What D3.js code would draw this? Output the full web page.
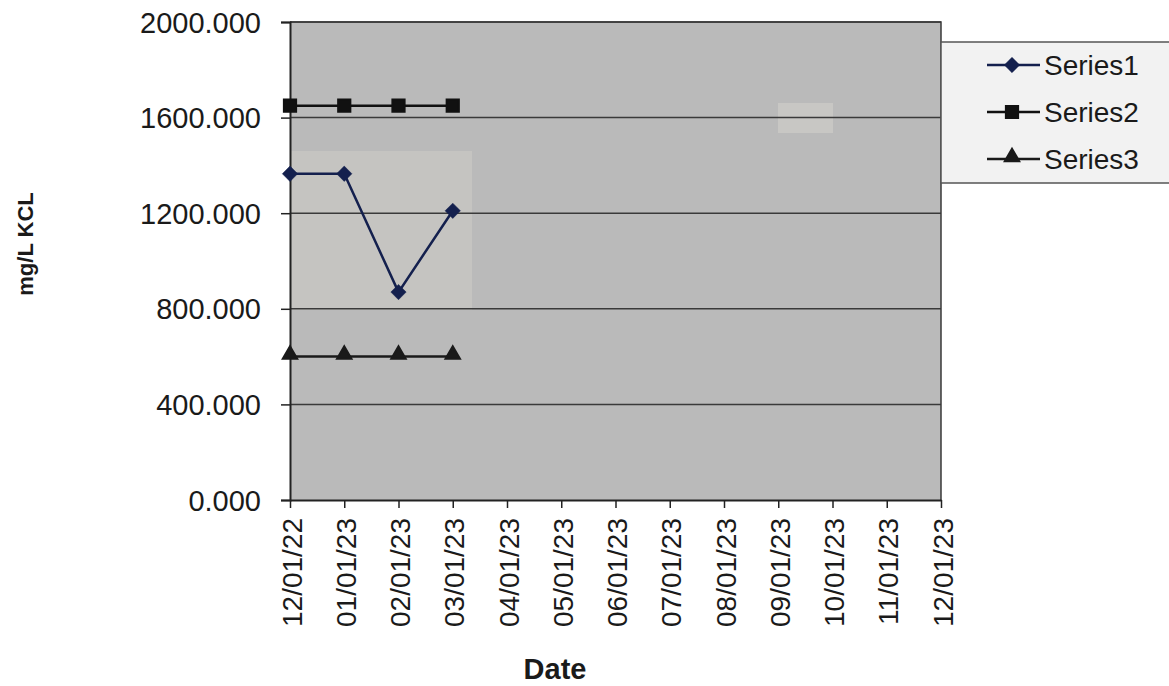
<!DOCTYPE html>
<html>
<head>
<meta charset="utf-8">
<script src="https://cdn.jsdelivr.net/npm/d3@7"></script>
<style>
  html, body { margin: 0; padding: 0; background: #ffffff; }
  svg { display: block; font-family: Arial, "Liberation Sans", sans-serif; }
</style>
</head>
<body>
<svg id="chart" width="1169" height="686"></svg>
<script>
// Monthly sampling dates on the x axis
const dates = ["12/01/22", "01/01/23", "02/01/23", "03/01/23", "04/01/23", "05/01/23",
               "06/01/23", "07/01/23", "08/01/23", "09/01/23", "10/01/23", "11/01/23", "12/01/23"];
// Measured KCL concentrations (mg/L), first four months
const series1 = [1365, 1365, 870, 1210];
const series2 = [1650, 1650, 1650, 1650];
const series3 = [600, 600, 600, 600];
const yTicks = [0, 400, 800, 1200, 1600, 2000];
const seriesNames = ["Series1", "Series2", "Series3"];

const FONT = "Arial, 'Liberation Sans', sans-serif";
const svg = d3.select("#chart");
const plot = { left: 290, right: 941, top: 22, bottom: 500 };

const x = d3.scalePoint().domain(dates).range([plot.left, plot.right]);
const y = d3.scaleLinear().domain([0, 2000]).range([plot.bottom, plot.top]);

// Plot background
svg.append("rect")
  .attr("x", plot.left).attr("y", plot.top)
  .attr("width", plot.right - plot.left).attr("height", plot.bottom - plot.top)
  .attr("fill", "#bababa");

// Lighter patches in the plot area
svg.append("rect").attr("x", plot.left).attr("y", 151).attr("width", 182).attr("height", 159)
  .attr("fill", "#c5c4c1");
svg.append("rect").attr("x", 778).attr("y", 103).attr("width", 55).attr("height", 30)
  .attr("fill", "#c8c7c4");

// Gridlines
svg.append("g").selectAll("line").data(yTicks.filter(d => d > 0)).join("line")
  .attr("x1", plot.left).attr("x2", plot.right)
  .attr("y1", d => y(d)).attr("y2", d => y(d))
  .attr("stroke", "#3a3a3a").attr("stroke-width", 1.5);

// Plot border (top and right)
svg.append("path")
  .attr("d", `M${plot.left},${plot.top}H${plot.right}V${plot.bottom}`)
  .attr("fill", "none").attr("stroke", "#3a3a3a").attr("stroke-width", 1.5);

// Y axis
const yAxis = svg.append("g")
  .attr("transform", `translate(${plot.left},0)`)
  .call(d3.axisLeft(y).tickValues(yTicks).tickFormat(d3.format(".3f")).tickSize(9).tickPadding(20));
yAxis.select(".domain").attr("stroke", "#222").attr("stroke-width", 2);
yAxis.selectAll(".tick line").attr("stroke", "#222").attr("stroke-width", 1.5);
yAxis.selectAll(".tick text").attr("font-size", 29).attr("fill", "#1a1a1a")
  .attr("font-family", FONT).attr("dy", "0.35em");

// X axis
const xAxis = svg.append("g")
  .attr("transform", `translate(0,${plot.bottom})`)
  .call(d3.axisBottom(x).tickSize(8).tickSizeOuter(0));
xAxis.select(".domain").attr("stroke", "#222").attr("stroke-width", 2);
xAxis.selectAll(".tick line").attr("stroke", "#222").attr("stroke-width", 1.5);
xAxis.selectAll(".tick text")
  .attr("font-size", 28).attr("fill", "#1a1a1a")
  .attr("font-family", FONT)
  .attr("transform", "rotate(-90)")
  .attr("text-anchor", "end")
  .attr("x", -18).attr("y", 1).attr("dy", "0.36em");

// Axis titles
svg.append("text").attr("x", 555).attr("y", 679).attr("text-anchor", "middle")
  .attr("font-size", 29).attr("font-weight", "bold").attr("fill", "#1a1a1a").text("Date");
svg.append("text").attr("transform", "translate(33,244) rotate(-90)").attr("text-anchor", "middle")
  .attr("font-size", 22).attr("font-weight", "bold").attr("fill", "#1a1a1a").text("mg/L KCL");

// Series definitions
const seriesData = [series1, series2, series3];
const colors = ["#14204e", "#111111", "#1a1a1a"];
const symbols = [
  d3.symbol().type(d3.symbolDiamond2).size(150),
  d3.symbol().type(d3.symbolSquare2).size(190),
  d3.symbol().type(d3.symbolTriangle2).size(150)
];
const line = d3.line().x((d, i) => x(dates[i])).y(d => y(d));

seriesData.forEach((vals, s) => {
  const g = svg.append("g");
  g.append("path").datum(vals).attr("d", line)
    .attr("fill", "none").attr("stroke", colors[s]).attr("stroke-width", 2.5);
  g.selectAll("path.m").data(vals).join("path").attr("class", "m")
    .attr("d", symbols[s])
    .attr("transform", (d, i) => `translate(${x(dates[i])},${y(d) + (s === 2 ? -2 : 0)})`)
    .attr("fill", colors[s]).attr("stroke", colors[s]).attr("stroke-width", s === 0 ? 0.5 : 2);
});

// Legend
const legend = svg.append("g");
legend.append("rect").attr("x", 941).attr("y", 42).attr("width", 240).attr("height", 141)
  .attr("fill", "#f2f2f2").attr("stroke", "#555").attr("stroke-width", 1.5);
seriesNames.forEach((name, s) => {
  const ly = 65 + s * 47;
  legend.append("line").attr("x1", 987).attr("x2", 1040).attr("y1", ly).attr("y2", ly)
    .attr("stroke", colors[s]).attr("stroke-width", 2.5);
  legend.append("path").attr("d", symbols[s])
    .attr("transform", `translate(1012,${ly + (s === 2 ? -2 : 0)})`)
    .attr("fill", colors[s]).attr("stroke", colors[s]).attr("stroke-width", s === 0 ? 0.5 : 2);
  legend.append("text").attr("x", 1044).attr("y", ly).attr("dy", "0.36em")
    .attr("font-size", 28).attr("fill", "#1a1a1a").text(name);
});
</script>
</body>
</html>
